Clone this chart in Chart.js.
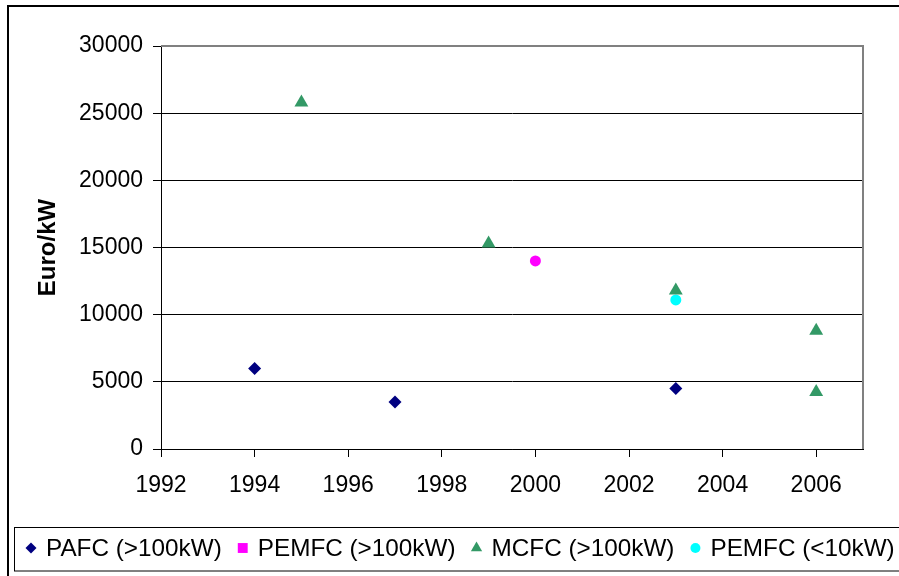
<!DOCTYPE html>
<html>
<head>
<meta charset="utf-8">
<script src="https://cdn.jsdelivr.net/npm/chart.js@4/dist/chart.umd.min.js"></script>
<style>
  html, body { margin: 0; padding: 0; background: #fff; }
  canvas { display: block; }
</style>
</head>
<body>
<canvas id="c" width="899" height="576"></canvas>
<script>
// Cost of fuel cell systems by year (Euro per kW)
const pafcYears = [1994, 1997, 2003];
const pafcCost = [6000, 3500, 4500];

const pemfcLargeYears = [2000];
const pemfcLargeCost = [14000];

const mcfcYears = [1995, 1999, 2003, 2006, 2006];
const mcfcCost = [25800, 15300, 11800, 8800, 4250];

const pemfcSmallYears = [2003];
const pemfcSmallCost = [11100];

const seriesNames = ['PAFC (>100kW)', 'PEMFC (>100kW)', 'MCFC (>100kW)', 'PEMFC (<10kW)'];

const FONT = 'Liberation Sans, Arial, sans-serif';

function pairs(xs, ys) {
  return xs.map((x, i) => ({ x: x, y: ys[i] }));
}

const datasets = [
  { label: seriesNames[0], data: pairs(pafcYears, pafcCost), pointStyle: 'rectRot', pointRadius: 6.5,
    backgroundColor: '#000080', legendStyle: 'rectRot', legendRadius: 5.5 },
  { label: seriesNames[1], data: pairs(pemfcLargeYears, pemfcLargeCost), pointStyle: 'circle', pointRadius: 5.5,
    backgroundColor: '#FF00FF', legendStyle: 'rect', legendRadius: 7 },
  { label: seriesNames[2], data: pairs(mcfcYears, mcfcCost), pointStyle: 'triangle', pointRadius: 8,
    backgroundColor: '#339966', legendStyle: 'triangle', legendRadius: 6.5 },
  { label: seriesNames[3], data: pairs(pemfcSmallYears, pemfcSmallCost), pointStyle: 'circle', pointRadius: 5.5,
    backgroundColor: '#00FFFF', legendStyle: 'circle', legendRadius: 5 }
].map(d => Object.assign(d, { borderWidth: 0, pointBorderWidth: 0, pointHoverRadius: d.pointRadius,
  borderColor: d.backgroundColor, pointBackgroundColor: d.backgroundColor }));

function markPoint(ctx, style, radius, x, y) {
  const h = Chart.helpers;
  if (h && h.drawPoint) {
    h.drawPoint(ctx, { pointStyle: style, radius: radius, rotation: 0, borderWidth: 0 }, x, y);
  }
}

// Page frame, plot-area edge and the boxed legend along the bottom
const decorations = {
  id: 'decorations',
  beforeDraw(chart) {
    const ctx = chart.ctx;
    ctx.save();
    ctx.fillStyle = '#fff';
    ctx.fillRect(0, 0, chart.width, chart.height);
    ctx.restore();
  },
  beforeDatasetsDraw(chart) {
    const { ctx, chartArea: a } = chart;
    ctx.save();
    ctx.strokeStyle = '#808080';
    ctx.lineWidth = 2;
    ctx.beginPath();
    ctx.moveTo(a.left, a.top);
    ctx.lineTo(a.right, a.top);
    ctx.lineTo(a.right, a.bottom);
    ctx.stroke();
    ctx.restore();
  },
  afterDraw(chart) {
    const ctx = chart.ctx;
    ctx.save();
    // outer frame
    ctx.fillStyle = '#000';
    ctx.fillRect(7, 5, chart.width, 2);
    ctx.fillRect(7, 5, 2, chart.height);
    // legend box
    ctx.strokeStyle = '#000';
    ctx.lineWidth = 1;
    ctx.strokeRect(14.5, 527.5, 900, 43.5);
    // legend entries
    ctx.font = '24.3px ' + FONT;
    ctx.textBaseline = 'middle';
    ctx.textAlign = 'left';
    const cy = 548;
    let x = 31;
    chart.data.datasets.forEach(ds => {
      ctx.fillStyle = ds.backgroundColor;
      markPoint(ctx, ds.legendStyle, ds.legendRadius, x, cy);
      ctx.fillStyle = '#000';
      const tx = x + 15;
      ctx.fillText(ds.label, tx, cy + 1);
      x = tx + ctx.measureText(ds.label).width + 21;
    });
    ctx.restore();
  }
};

new Chart(document.getElementById('c'), {
  type: 'scatter',
  data: { datasets: datasets },
  options: {
    responsive: false,
    animation: false,
    events: [],
    layout: { padding: { left: 0, top: 46, right: 36, bottom: 0 } },
    plugins: {
      legend: { display: false },
      tooltip: { enabled: false }
    },
    scales: {
      x: {
        type: 'linear',
        min: 1992,
        max: 2007,
        afterFit(scale) { scale.height = 127; },
        ticks: {
          stepSize: 2,
          includeBounds: false,
          color: '#000',
          padding: 15,
          maxRotation: 0,
          font: { family: FONT, size: 23 },
          callback: v => String(v)
        },
        grid: { drawOnChartArea: false, drawTicks: true, tickLength: 8, color: '#000', lineWidth: 1 },
        border: { display: true, color: '#000', width: 1 }
      },
      y: {
        min: 0,
        max: 30000,
        afterFit(scale) { scale.width = 161; },
        ticks: {
          stepSize: 5000,
          color: '#000',
          padding: 10,
          font: { family: FONT, size: 23 },
          callback: v => String(v)
        },
        grid: { drawTicks: true, tickLength: 8, color: '#000', lineWidth: 1 },
        border: { display: true, color: '#000', width: 1 },
        title: {
          display: true,
          text: 'Euro/kW',
          color: '#000',
          font: { family: FONT, size: 24, weight: 'bold' },
          padding: { top: 34, bottom: 0 }
        }
      }
    }
  },
  plugins: [decorations]
});
</script>
</body>
</html>
